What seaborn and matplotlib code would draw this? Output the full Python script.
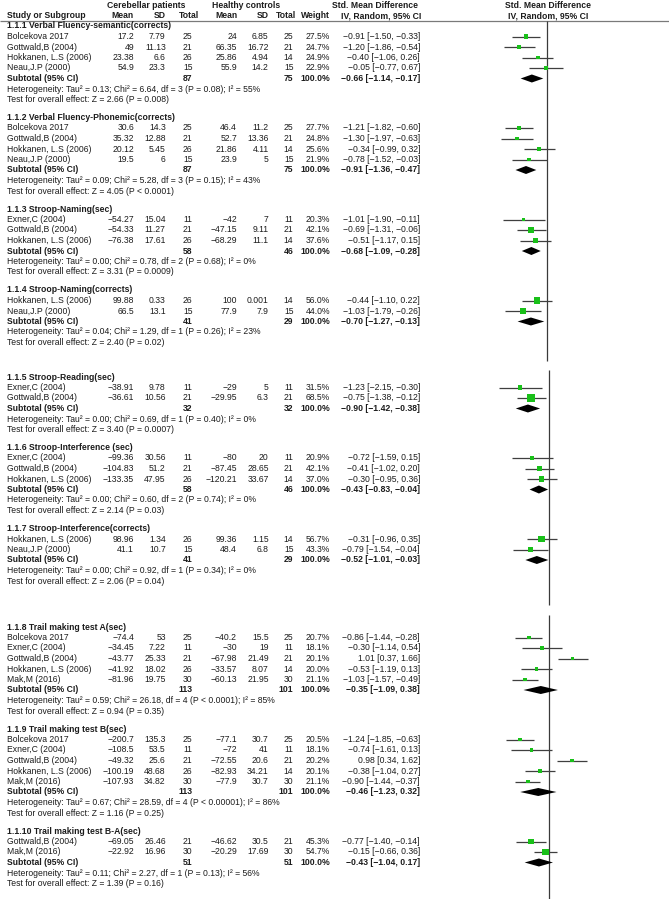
import numpy as np
import pandas as pd
import matplotlib
matplotlib.use("Agg")
import matplotlib.pyplot as plt
import seaborn as sns
from matplotlib import font_manager as fm

# ---------------- data ----------------
sub_titles = ["1.1.1 Verbal Fluency-semantic(corrects)",
              "1.1.2 Verbal Fluency-Phonemic(corrects)",
              "1.1.3 Stroop-Naming(sec)",
              "1.1.4 Stroop-Naming(corrects)",
              "1.1.5 Stroop-Reading(sec)",
              "1.1.6 Stroop-Interference (sec)",
              "1.1.7 Stroop-Interference(corrects)",
              "1.1.8 Trail making test A(sec)",
              "1.1.9 Trail making test B(sec)",
              "1.1.10 Trail making test B-A(sec)"]

study_section = [0, 0, 0, 0, 1, 1, 1, 1, 2, 2, 2, 3, 3, 4, 4, 5, 5, 5, 6, 6,
                 7, 7, 7, 7, 7, 8, 8, 8, 8, 8, 9, 9]
study_names = ["Bolcekova 2017", "Gottwald,B (2004)", "Hokkanen, L.S (2006)", "Neau,J.P (2000)",
               "Bolcekova 2017", "Gottwald,B (2004)", "Hokkanen, L.S (2006)", "Neau,J.P (2000)",
               "Exner,C (2004)", "Gottwald,B (2004)", "Hokkanen, L.S (2006)",
               "Hokkanen, L.S (2006)", "Neau,J.P (2000)",
               "Exner,C (2004)", "Gottwald,B (2004)",
               "Exner,C (2004)", "Gottwald,B (2004)", "Hokkanen, L.S (2006)",
               "Hokkanen, L.S (2006)", "Neau,J.P (2000)",
               "Bolcekova 2017", "Exner,C (2004)", "Gottwald,B (2004)", "Hokkanen, L.S (2006)", "Mak,M (2016)",
               "Bolcekova 2017", "Exner,C (2004)", "Gottwald,B (2004)", "Hokkanen, L.S (2006)", "Mak,M (2016)",
               "Gottwald,B (2004)", "Mak,M (2016)"]
pat_mean = [17.2, 49, 23.38, 54.9, 30.6, 35.32, 20.12, 19.5, -54.27, -54.33, -76.38,
            99.88, 66.5, -38.91, -36.61, -99.36, -104.83, -133.35, 98.96, 41.1,
            -74.4, -34.45, -43.77, -41.92, -81.96, -200.7, -108.5, -49.32, -100.19, -107.93,
            -69.05, -22.92]
pat_sd = [7.79, 11.13, 6.6, 23.3, 14.3, 12.88, 5.45, 6, 15.04, 11.27, 17.61, 0.33, 13.1,
          9.78, 10.56, 30.56, 51.2, 47.95, 1.34, 10.7, 53, 7.22, 25.33, 18.02, 19.75,
          135.3, 53.5, 25.6, 48.68, 34.82, 26.46, 16.96]
pat_n = [25, 21, 26, 15, 25, 21, 26, 15, 11, 21, 26, 26, 15, 11, 21, 11, 21, 26, 26, 15,
         25, 11, 21, 26, 30, 25, 11, 21, 26, 30, 21, 30]
ctl_mean = [24, 66.35, 25.86, 55.9, 46.4, 52.7, 21.86, 23.9, -42, -47.15, -68.29, 100, 77.9,
            -29, -29.95, -80, -87.45, -120.21, 99.36, 48.4, -40.2, -30, -67.98, -33.57, -60.13,
            -77.1, -72, -72.55, -82.93, -77.9, -46.62, -20.29]
ctl_sd = [6.85, 16.72, 4.94, 14.2, 11.2, 13.36, 4.11, 5, 7, 9.11, 11.1, 0.001, 7.9, 5, 6.3,
          20, 28.65, 33.67, 1.15, 6.8, 15.5, 19, 21.49, 8.07, 21.95, 30.7, 41, 20.6, 34.21,
          30.7, 30.5, 17.69]
ctl_n = [25, 21, 14, 15, 25, 21, 14, 15, 11, 21, 14, 14, 15, 11, 21, 11, 21, 14, 14, 15,
         25, 11, 21, 14, 30, 25, 11, 21, 14, 30, 21, 30]
weight = [27.5, 24.7, 24.9, 22.9, 27.7, 24.8, 25.6, 21.9, 20.3, 42.1, 37.6, 56.0, 44.0,
          31.5, 68.5, 20.9, 42.1, 37.0, 56.7, 43.3, 20.7, 18.1, 20.1, 20.0, 21.1,
          20.5, 18.1, 20.2, 20.1, 21.1, 45.3, 54.7]
smd = [-0.91, -1.20, -0.40, -0.05, -1.21, -1.30, -0.34, -0.78, -1.01, -0.69, -0.51,
       -0.44, -1.03, -1.23, -0.75, -0.72, -0.41, -0.30, -0.31, -0.79,
       -0.86, -0.30, 1.01, -0.53, -1.03, -1.24, -0.74, 0.98, -0.38, -0.90, -0.77, -0.15]
ci_low = [-1.50, -1.86, -1.06, -0.77, -1.82, -1.97, -0.99, -1.52, -1.90, -1.31, -1.17,
          -1.10, -1.79, -2.15, -1.38, -1.59, -1.02, -0.95, -0.96, -1.54,
          -1.44, -1.14, 0.37, -1.19, -1.57, -1.85, -1.61, 0.34, -1.04, -1.44, -1.40, -0.66]
ci_high = [-0.33, -0.54, 0.26, 0.67, -0.60, -0.63, 0.32, -0.03, -0.11, -0.06, 0.15,
           0.22, -0.26, -0.30, -0.12, 0.15, 0.20, 0.36, 0.35, -0.04,
           -0.28, 0.54, 1.66, 0.13, -0.49, -0.63, 0.13, 1.62, 0.27, -0.37, -0.14, 0.36]

sub_pat_n = [87, 87, 58, 41, 32, 58, 41, 113, 113, 51]
sub_ctl_n = [75, 75, 46, 29, 32, 46, 29, 101, 101, 51]
sub_smd = [-0.66, -0.91, -0.68, -0.70, -0.90, -0.43, -0.52, -0.35, -0.46, -0.43]
sub_low = [-1.14, -1.36, -1.09, -1.27, -1.42, -0.83, -1.01, -1.09, -1.23, -1.04]
sub_high = [-0.17, -0.47, -0.28, -0.13, -0.38, -0.04, -0.03, 0.38, 0.32, 0.17]
het_tau2 = [0.13, 0.09, 0.00, 0.04, 0.00, 0.00, 0.00, 0.59, 0.67, 0.11]
het_chi2 = [6.64, 5.28, 0.78, 1.29, 0.69, 0.60, 0.92, 26.18, 28.59, 2.27]
het_df = [3, 3, 2, 1, 1, 2, 1, 4, 4, 1]
het_p = ["= 0.08", "= 0.15", "= 0.68", "= 0.26", "= 0.40", "= 0.74", "= 0.34",
         "< 0.0001", "< 0.00001", "= 0.13"]
het_i2 = [55, 43, 0, 23, 0, 0, 0, 85, 86, 56]
test_z = [2.66, 4.05, 3.31, 2.40, 3.40, 2.14, 2.06, 0.94, 1.16, 1.39]
test_p = ["= 0.008", "< 0.0001", "= 0.0009", "= 0.02", "= 0.0007", "= 0.03", "= 0.04",
          "= 0.35", "= 0.25", "= 0.16"]

# ---------------- style ----------------
sns.set_theme(style="white")


def has_font(name):
    try:
        fm.findfont(fm.FontProperties(family=name), fallback_to_default=False)
        return True
    except Exception:
        return False


if has_font("Liberation Sans Narrow"):
    FONT, FS = "Liberation Sans Narrow", 7.5
elif has_font("DejaVu Sans Condensed"):
    FONT, FS = "DejaVu Sans Condensed", 6.2
else:
    FONT, FS = "Liberation Sans", 6.2
plt.rcParams["font.family"] = [FONT, "DejaVu Sans"]

TXT = "#1c1c1c"
W, H = 669, 899

fig = plt.figure(figsize=(W / 100, H / 100), dpi=100)
tax = fig.add_axes([0, 0, 1, 1])
tax.set_xlim(0, W)
tax.set_ylim(H, 0)
tax.axis("off")

# ---------------- layout of rows ----------------
STEP, EXTRA = 10.5, 7.5
PIECE_START = {0: 26.0, 4: 377.0, 7: 627.0}
section_piece = [0, 0, 0, 0, 1, 1, 1, 2, 2, 2]
study_y = [0.0] * len(study_names)
title_y, sub_y, het_y, test_y = [], [], [], []
y = None
for k in range(len(sub_titles)):
    y = PIECE_START[k] if k in PIECE_START else y + STEP + EXTRA
    title_y.append(y)
    for i, s in enumerate(study_section):
        if s == k:
            y += STEP
            study_y[i] = y
    y += STEP
    sub_y.append(y)
    y += STEP
    het_y.append(y)
    y += STEP
    test_y.append(y)


def num(v, fmt="g"):
    return format(v, fmt).replace("-", "\u2212")


def ci_str(e, lo, hi):
    return f"{num(e, '.2f')} [{num(lo, '.2f')}, {num(hi, '.2f')}]"


# columns (pixel x, alignment)
X_STUDY = 7
X_PM, X_PSD, X_PN = 134, 165.7, 192.5
X_CM, X_CSD, X_CN = 237, 268.7, 293.5
X_W, X_CI = 330, 420
ZERO_HDR = 547.8


def t(x, yy, s, ha="left", bold=False):
    tax.text(x, yy, s, ha=ha, va="center", fontsize=FS, color=TXT,
             fontweight="bold" if bold else "normal")


# headers
HY1, HY2 = 5.5, 15.5
t(146, HY1, "Cerebellar patients", "center", True)
t(246, HY1, "Healthy controls", "center", True)
t(374.5, HY1, "Std. Mean Difference", "center", True)
t(ZERO_HDR, HY1, "Std. Mean Difference", "center", True)
t(X_STUDY, HY2, "Study or Subgroup", bold=True)
t(X_PM, HY2, "Mean", "right", True)
t(X_PSD, HY2, "SD", "right", True)
t(199, HY2, "Total", "right", True)
t(X_CM, HY2, "Mean", "right", True)
t(X_CSD, HY2, "SD", "right", True)
t(296, HY2, "Total", "right", True)
t(X_W, HY2, "Weight", "right", True)
t(381, HY2, "IV, Random, 95% CI", "center", True)
t(ZERO_HDR, HY2, "IV, Random, 95% CI", "center", True)
tax.hlines(20.8, 0, W, color="#7a7a7a", lw=0.9)

# study rows
for i in range(len(study_names)):
    yy = study_y[i]
    t(X_STUDY, yy, study_names[i])
    t(X_PM, yy, num(pat_mean[i]), "right")
    t(X_PSD, yy, num(pat_sd[i]), "right")
    t(X_PN, yy, str(pat_n[i]), "right")
    t(X_CM, yy, num(ctl_mean[i]), "right")
    t(X_CSD, yy, num(ctl_sd[i]), "right")
    t(X_CN, yy, str(ctl_n[i]), "right")
    t(X_W, yy, f"{weight[i]:.1f}%", "right")
    t(X_CI, yy, ci_str(smd[i], ci_low[i], ci_high[i]), "right")

# subgroup rows
for k in range(len(sub_titles)):
    t(X_STUDY, title_y[k], sub_titles[k], bold=True)
    t(X_STUDY, sub_y[k], "Subtotal (95% CI)", bold=True)
    t(X_PN, sub_y[k], str(sub_pat_n[k]), "right", True)
    t(X_CN, sub_y[k], str(sub_ctl_n[k]), "right", True)
    t(X_W, sub_y[k], "100.0%", "right", True)
    t(X_CI, sub_y[k], ci_str(sub_smd[k], sub_low[k], sub_high[k]), "right", True)
    t(X_STUDY, het_y[k],
      f"Heterogeneity: Tau\u00b2 = {het_tau2[k]:.2f}; Chi\u00b2 = {het_chi2[k]:.2f}, "
      f"df = {het_df[k]} (P {het_p[k]}); I\u00b2 = {het_i2[k]}%")
    t(X_STUDY, test_y[k], f"Test for overall effect: Z = {test_z[k]:.2f} (P {test_p[k]})")

# ---------------- forest plot (three stacked image pieces) ----------------
df = pd.DataFrame({"smd": smd, "lo": ci_low, "hi": ci_high, "weight": weight,
                   "y": study_y,
                   "piece": [section_piece[s] for s in study_section]})

PX_PER_UNIT, FX0 = 23.4, 480
PIECE_ZERO = [547.3, 549.0, 549.0]
PIECE_VLINE = [(20.8, 361), (370, 605), (615, H)]


def marker_area(w):
    side_px = 1.5 + 0.095 * w
    return (side_px * 0.72) ** 2


size_map = {w: marker_area(w) for w in df["weight"].unique()}
DH = 4.0

for p in range(3):
    fx = fig.add_axes([FX0 / W, 0, (W - FX0) / W, 1])
    fx.patch.set_alpha(0)
    y0, y1 = PIECE_VLINE[p]
    fx.vlines(0, y0, y1, color="#3a3a3a", lw=0.9, zorder=1)
    d = df[df["piece"] == p]
    fx.hlines(d["y"], d["lo"], d["hi"], color="#3f3f3f", lw=0.9, zorder=2)
    sns.scatterplot(data=d, x="smd", y="y", size="weight", sizes=size_map,
                    marker="s", color="#19c019", linewidth=0, legend=False,
                    ax=fx, zorder=3)
    for k in range(len(sub_titles)):
        if section_piece[k] != p:
            continue
        yy = sub_y[k]
        fx.fill([sub_low[k], sub_smd[k], sub_high[k], sub_smd[k]],
                [yy, yy - DH, yy, yy + DH], color="black", lw=0, zorder=3)
    z = PIECE_ZERO[p]
    fx.set_xlim((FX0 - z) / PX_PER_UNIT, (W - z) / PX_PER_UNIT)
    fx.set_ylim(H, 0)
    fx.axis("off")

fig.savefig("out.png", dpi=100)
